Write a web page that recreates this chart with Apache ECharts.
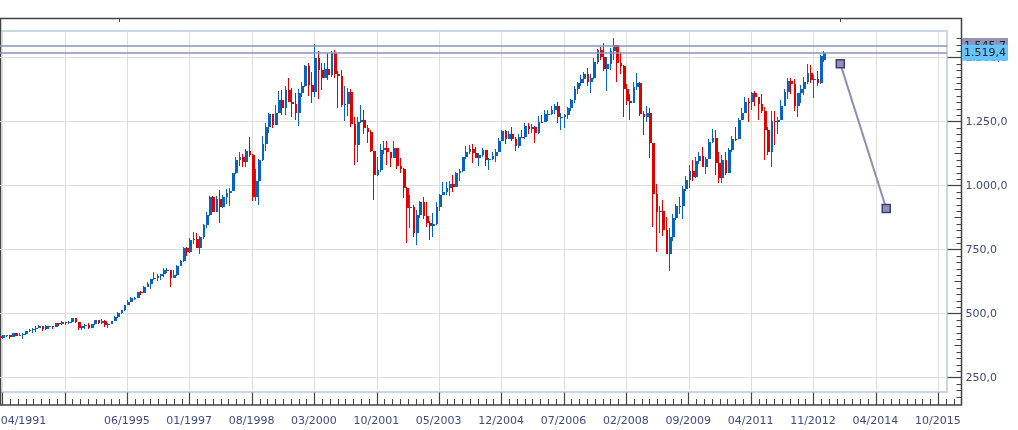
<!DOCTYPE html>
<html><head><meta charset="utf-8">
<style>html,body{margin:0;padding:0;background:#fff}#c{width:1018px;height:430px}</style>
<script src="https://cdn.jsdelivr.net/npm/echarts@6/dist/echarts.min.js"></script>
</head><body><div id="c"></div>
<script>
// monthly bars, first bar = slot 0
const opens = [413,404,415,415,408,424,414,418,419,431,
436,439,443,452,440,450,451,448,464,459,468,462,
466,482,467,446,451,457,444,458,475,463,472,454,
459,470,487,501,515,533,545,562,562,584,582,605,
616,636,640,646,654,669,671,640,652,687,705,757,
741,786,791,757,801,848,885,954,899,947,915,955,
970,980,1049,1102,1112,1091,1134,1121,957,1017,1099,1164,
1229,1280,1238,1286,1335,1302,1373,1329,1320,1283,1363,1389,
1469,1394,1366,1499,1452,1421,1455,1431,1518,1437,1429,1315,
1320,1366,1240,1160,1249,1256,1224,1211,1134,1041,1060,1139,
1148,1130,1107,1147,1077,1067,990,912,916,815,886,936,
880,856,841,849,917,964,975,990,1008,996,1051,1058,
1112,1131,1145,1126,1107,1121,1141,1102,1104,1115,1130,1174,
1212,1181,1204,1181,1157,1192,1191,1234,1220,1229,1207,1249,
1248,1280,1281,1295,1311,1270,1270,1277,1304,1336,1378,1401,
1418,1438,1407,1421,1482,1531,1503,1455,1474,1527,1549,1481,
1468,1379,1331,1323,1386,1400,1280,1267,1283,1166,969,896,
903,826,735,798,873,919,919,987,1021,1057,1036,1096,
1115,1074,1104,1169,1187,1089,1031,1102,1049,1141,1183,1181,
1258,1286,1327,1326,1364,1345,1321,1292,1219,1131,1253,1247,
1258,1312,1366,1408,1398,1310,1362,1379,1407,1441,1412,1416,
1402,1492];
const closes = [404,415,415,408,424,414,418,419,431,436,
439,443,452,440,450,451,448,464,459,468,462,466,
482,467,446,451,457,444,458,475,463,472,454,459,
470,487,501,515,533,545,562,562,584,582,605,616,
636,640,646,654,669,671,640,652,687,705,757,741,
786,791,757,801,848,885,954,899,947,915,955,970,
980,1049,1102,1112,1091,1134,1121,957,1017,1099,1164,1229,
1280,1238,1286,1335,1302,1373,1329,1320,1283,1363,1389,1469,
1394,1366,1499,1452,1421,1455,1431,1518,1437,1429,1315,1320,
1366,1240,1160,1249,1256,1224,1211,1134,1041,1060,1139,1148,
1130,1107,1147,1077,1067,990,912,916,815,886,936,880,
856,841,849,917,964,975,990,1008,996,1051,1058,1112,
1131,1145,1126,1107,1121,1141,1102,1104,1115,1130,1174,1212,
1181,1204,1181,1157,1192,1191,1234,1220,1229,1207,1249,1248,
1280,1281,1295,1311,1270,1270,1277,1304,1336,1378,1401,1418,
1438,1407,1421,1482,1531,1503,1455,1474,1527,1549,1481,1468,
1379,1331,1323,1386,1400,1280,1267,1283,1166,969,896,903,
826,735,798,873,919,919,987,1021,1057,1036,1096,1115,
1074,1104,1169,1187,1089,1031,1102,1049,1141,1183,1181,1258,
1286,1327,1326,1364,1345,1321,1292,1219,1131,1253,1247,1258,
1312,1366,1408,1398,1310,1362,1379,1407,1441,1412,1416,1402,
1505,1519];
const lows = [401,403,410,401,407,413,413,400,418,430,
426,429,444,434,437,441,441,447,450,457,454,461,
464,464,436,435,439,441,444,455,460,460,449,445,
459,470,485,500,511,533,544,555,561,573,580,605,
597,633,627,630,642,660,605,639,649,685,703,724,
737,773,756,733,793,836,883,899,899,855,913,927,
920,979,1047,1076,1075,1074,1114,940,940,923,1098,1137,
1205,1224,1245,1283,1277,1278,1328,1268,1256,1233,1348,1387,
1350,1325,1346,1339,1373,1420,1413,1425,1419,1305,1308,1254,
1274,1228,1081,1091,1246,1204,1165,1130,944,1037,1054,1124,
1081,1074,1107,1064,1048,952,775,833,800,768,872,870,
840,787,801,848,902,963,962,960,975,995,1018,1054,
1105,1124,1087,1107,1076,1112,1078,1060,1100,1091,1130,1173,
1163,1181,1176,1137,1147,1188,1183,1201,1205,1168,1202,1246,
1248,1254,1277,1280,1245,1219,1224,1259,1292,1325,1360,1391,
1403,1389,1363,1416,1476,1490,1447,1371,1453,1490,1407,1436,
1270,1317,1257,1324,1373,1272,1200,1247,1107,840,741,816,
805,735,667,783,866,888,870,979,992,1020,1029,1086,
1072,1045,1104,1165,1040,1010,1011,1040,1049,1131,1174,1186,
1257,1289,1249,1295,1311,1258,1283,1101,1121,1074,1158,1203,
1258,1312,1340,1358,1291,1267,1325,1355,1397,1403,1344,1390,
1398,1485];
const highs = [415,416,418,416,425,425,425,423,431,441,
443,450,456,449,454,451,451,464,464,470,469,471,
483,483,469,453,458,462,459,477,476,478,474,465,
473,489,507,515,535,552,564,566,586,587,608,622,
637,664,656,657,680,677,672,671,691,711,762,762,
794,820,817,804,851,899,958,961,960,983,964,986,
993,1050,1113,1132,1122,1145,1190,1122,1066,1103,1193,1244,
1283,1282,1317,1372,1375,1391,1421,1382,1361,1376,1404,1473,
1478,1444,1553,1528,1481,1478,1518,1525,1531,1450,1453,1390,
1383,1377,1268,1269,1316,1295,1239,1218,1135,1111,1163,1173,
1176,1131,1173,1148,1107,1068,994,965,925,907,942,955,
935,864,895,937,966,1015,1016,1019,1040,1053,1064,1112,
1155,1158,1164,1150,1128,1146,1141,1110,1131,1143,1188,1218,
1217,1212,1229,1192,1201,1219,1246,1245,1243,1234,1271,1276,
1295,1297,1310,1318,1327,1284,1280,1307,1340,1390,1407,1432,
1443,1461,1438,1499,1535,1541,1556,1504,1538,1576,1523,1524,
1471,1396,1359,1404,1440,1405,1293,1313,1304,1167,1007,919,
944,876,833,888,930,956,997,1039,1081,1102,1113,1130,
1151,1112,1181,1220,1219,1132,1120,1130,1149,1196,1228,1263,
1303,1345,1344,1366,1371,1345,1357,1308,1230,1293,1292,1269,
1333,1378,1419,1422,1416,1364,1392,1426,1475,1470,1434,1448,
1510,1526];

const horizontalLevels = [1545.7, 1519.4];
const horizontalLabels = ['1.545,7', '1.519,4'];
const trendSlots = [256, 270];
const trendValues = [1477, 911];

const priceTicks = [250, 500, 750, 1000, 1250, 1500];
const priceLabels = ['250,0', '500,0', '750,0', '1.000,0', '1.250,0', '1.500,0'];
const priceMidTicks = [375, 625, 875, 1125, 1375];
const timeLabels = ['04/1991','','06/1995','01/1997','08/1998','03/2000','10/2001','05/2003','12/2004','07/2006','02/2008','09/2009','04/2011','11/2012','04/2014','10/2015'];

const SLOTS = 289, TICK_STEP = 19, FIRST_TICK = 1, TICK_NUDGE = 0.35;
const categories = Array.from({length: SLOTS}, (_, i) => String(i));
const timeTickSlots = timeLabels.map((_, k) => FIRST_TICK + k * TICK_STEP);
const timeTickPos = timeTickSlots.map(s => s + TICK_NUDGE);
const timeMinorPos = [];
for (let k = 0; k < 124; k++) { if (k % 8) timeMinorPos.push(FIRST_TICK + k * TICK_STEP / 8 + TICK_NUDGE); }
const priceMinorTicks = [];
for (let v = 175; v <= 1575; v += 25) priceMinorTicks.push(v);

const bars = opens.map((o, i) => [i, o, closes[i], lows[i], highs[i]]);
const trend = trendSlots.map((s, i) => [s, trendValues[i]]);

// value scale over the same pixels as the category bands: band i is centred on i + 0.5
const frameX = [0.74, 293.46], frameY = [143.5, 1653];
const UP = '#0563c1', DOWN = '#e00000';
const INK = '#444444', TXT = '#3f4a7f', GRIDC = '#dedede', LEVEL = '#8a93b8';
const tickAxisX = (vals, len, w) => ({
  type: 'value', gridIndex: 1, position: 'bottom', min: frameX[0], max: frameX[1],
  axisLine: {show: false}, splitLine: {show: false}, axisLabel: {show: false},
  axisTick: {show: true, inside: true, length: len, customValues: vals, lineStyle: {color: INK, width: w}}
});
const tickAxisY = (vals, len, w, labels) => ({
  type: 'value', gridIndex: 1, position: 'right', min: frameY[0], max: frameY[1],
  axisLine: {show: false}, splitLine: {show: false},
  axisTick: {show: true, inside: true, length: len, customValues: vals, lineStyle: {color: INK, width: w}},
  axisLabel: labels ? {show: true, customValues: vals, margin: 4, padding: [2, 0, 0, 0], color: TXT,
    fontFamily: 'DejaVu Sans', fontSize: 11,
    formatter: v => priceLabels[priceTicks.indexOf(v)]} : {show: false}
});
function renderBar(params, api) {
  const slot = api.value(0), o = api.value(1), c = api.value(2);
  const pO = api.coord([slot, o]), pC = api.coord([slot, c]);
  const yL = Math.round(api.coord([slot, api.value(3)])[1]);
  const yH = Math.round(api.coord([slot, api.value(4)])[1]);
  const x = Math.round(pO[0] - 0.7), right = Math.round(pO[0] + 2);
  const top = Math.round(Math.min(pO[1], pC[1])), bot = Math.round(Math.max(pO[1], pC[1]));
  const fill = c >= o ? UP : DOWN;
  return {type: 'group', children: [
    {type: 'rect', shape: {x, y: yH, width: 1, height: Math.max(1, yL - yH)}, style: {fill}},
    {type: 'rect', shape: {x, y: top, width: right - x, height: Math.max(1, bot - top)}, style: {fill}}
  ]};
}

const chart = echarts.init(document.getElementById('c'), null, {renderer: 'canvas'});
chart.setOption({
  animation: false,
  backgroundColor: '#ffffff',
  grid: [
    {left: -1.92, right: 71, top: 31, bottom: 38, show: true, outerBoundsMode: 'none', borderColor: '#c9d6e4', borderWidth: 2, backgroundColor: 'transparent'},
    {left: 0.5, right: 56.5, top: 18.5, bottom: 25, show: true, outerBoundsMode: 'none', borderColor: INK, borderWidth: 1.5, backgroundColor: 'transparent'}
  ],
  xAxis: [
    {type: 'category', gridIndex: 0, data: categories, boundaryGap: true,
     axisLine: {show: false}, axisTick: {show: false}, splitLine: {show: false},
     axisLabel: {show: true, interval: i => timeTickSlots.includes(i), margin: 24, padding: [0, 2, 0, 0], color: TXT,
       fontFamily: 'DejaVu Sans', fontSize: 11,
       formatter: (v, i) => {
         const s = timeLabels[timeTickSlots.indexOf(i)];
         return i === FIRST_TICK ? '{first|' + s + '}' : s;
       },
       rich: {first: {padding: [0, 0, 0, 43], color: TXT, fontFamily: 'DejaVu Sans', fontSize: 11}}
     }},
    tickAxisX(timeTickPos, 12.5, 1.2),
    tickAxisX(timeMinorPos, 6, 1),
    {type: 'value', gridIndex: 0, position: 'top', min: 0, max: SLOTS,
     axisLine: {show: false}, axisLabel: {show: false},
     axisTick: {show: false, customValues: timeTickPos},
     splitLine: {show: true, lineStyle: {color: GRIDC, width: 1}}}
  ],
  yAxis: [
    {type: 'value', gridIndex: 0, position: 'right', min: 194, max: 1604.5,
     axisLine: {show: false}, axisLabel: {show: false},
     axisTick: {show: false, customValues: priceTicks},
     splitLine: {show: true, lineStyle: {color: GRIDC, width: 1}}},
    tickAxisY(priceTicks, 14, 1.2, true),
    tickAxisY(priceMidTicks, 7, 1),
    tickAxisY(priceMinorTicks, 5, 1)
  ],
  series: [
    {type: 'custom', xAxisIndex: 0, yAxisIndex: 0, data: bars, renderItem: renderBar, z: 3,
     encode: {x: 0, y: [1, 2, 3, 4]}, silent: true},
    {type: 'line', xAxisIndex: 0, yAxisIndex: 0, data: trend, z: 6,
     symbol: 'rect', symbolSize: 8, showSymbol: true, showAllSymbol: true,
     lineStyle: {color: '#8b8fb4', width: 2},
     itemStyle: {color: '#8f93ba', borderColor: '#3d3d78', borderWidth: 1.5},
     markLine: {silent: true, symbol: 'none', animation: false, z: 5,
       lineStyle: {color: LEVEL, width: 1.5, type: 'solid'},
       data: [
         {yAxis: horizontalLevels[0], label: {show: true, position: 'end', distance: 15, formatter: horizontalLabels[0],
           backgroundColor: '#9094bb', color: '#222', padding: [3, 2, 2, 2], fontFamily: 'DejaVu Sans', fontSize: 11}},
         {yAxis: horizontalLevels[1], label: {show: true, position: 'end', distance: 15, formatter: horizontalLabels[1],
           backgroundColor: '#66c4ff', color: '#222', padding: [3, 2, 2, 2], fontFamily: 'DejaVu Sans', fontSize: 11}}
       ]}}
  ],
  graphic: [
    {type: 'line', shape: {x1: 119.5, y1: 18, x2: 119.5, y2: 22}, style: {stroke: INK, lineWidth: 1}},
    {type: 'line', shape: {x1: 840.5, y1: 18, x2: 840.5, y2: 22}, style: {stroke: INK, lineWidth: 1}}
  ]
});
</script></body></html>
